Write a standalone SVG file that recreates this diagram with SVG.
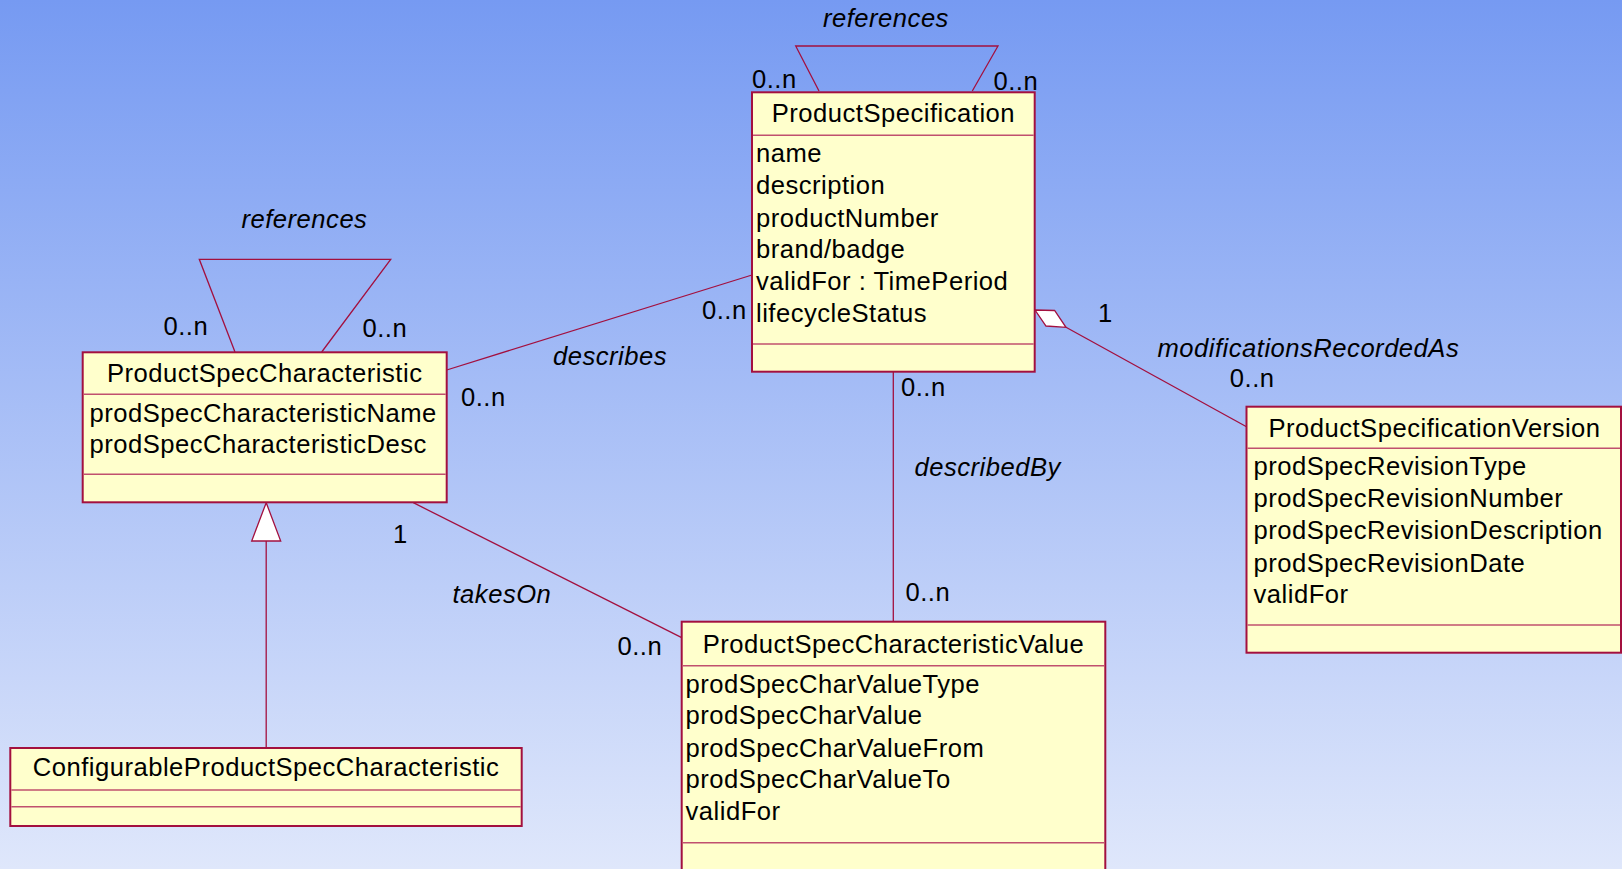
<svg xmlns="http://www.w3.org/2000/svg" width="1622" height="869" viewBox="0 0 1622 869">
<defs>
<linearGradient id="bg" x1="0" y1="0" x2="0" y2="1">
<stop offset="0" stop-color="#769af2"/>
<stop offset="1" stop-color="#dfe7fb"/>
</linearGradient>
<style>
text{font-family:"Liberation Sans",Arial,sans-serif;font-size:25.6px;letter-spacing:0.5px;fill:#000}
.it{font-style:italic}
.mid{text-anchor:middle}
.box{fill:#ffffcc;stroke:#a3103f;stroke-width:2}
.sep{stroke:#c0506e;stroke-width:1.5;fill:none}
.ln{stroke:#a3103f;stroke-width:1.3;fill:none}
.tri{fill:#fff;stroke:#a3103f;stroke-width:1.3}
</style>
</defs>
<rect width="1622" height="869" fill="url(#bg)"/>

<g id="connectors">
<polyline class="ln" points="819,91 795.7,46 998,46 972.3,91"/>
<polyline class="ln" points="235,352 199.3,259.3 390.7,259.3 321.7,352"/>
<line class="ln" x1="446.7" y1="370" x2="752" y2="275"/>
<line class="ln" x1="893.3" y1="372" x2="893.3" y2="621.7"/>
<line class="ln" x1="413.3" y1="502.7" x2="681.7" y2="637.7"/>
<line class="ln" x1="1066" y1="327.3" x2="1246.5" y2="426.7"/>
<polygon class="tri" points="1035,310 1054.6,310.5 1066,327.3 1046,326"/>
<line class="ln" x1="266.2" y1="541" x2="266.2" y2="748"/>
<polygon class="tri" points="266.2,502.7 251.7,541 280.7,541"/>
<text class="it" x="823" y="27.3">references</text>
<text x="752" y="88.3">0..n</text>
<text x="993.5" y="90">0..n</text>
<text class="it" x="241.5" y="228.3">references</text>
<text x="163.5" y="335">0..n</text>
<text x="362.5" y="336.7">0..n</text>
<text class="it" x="553" y="365">describes</text>
<text x="461" y="405.7">0..n</text>
<text x="702" y="319.3">0..n</text>
<text x="901" y="396">0..n</text>
<text class="it" x="914.5" y="476">describedBy</text>
<text x="905.5" y="601">0..n</text>
<text x="1098" y="322.3">1</text>
<text class="it" x="1157.5" y="356.7">modificationsRecordedAs</text>
<text x="1229.8" y="387.3">0..n</text>
<text x="393" y="543.3">1</text>
<text class="it" x="452.5" y="603.3">takesOn</text>
<text x="617.5" y="655">0..n</text>
</g>

<g id="ProductSpecification">
<rect class="box" x="752" y="92.3" width="282.7" height="279.4"/>
<line class="sep" x1="753" y1="135.3" x2="1033.7" y2="135.3"/>
<line class="sep" x1="753" y1="344" x2="1033.7" y2="344"/>
<text class="mid" x="893.4" y="121.7">ProductSpecification</text>
<text x="756" y="161.7">name</text>
<text x="756" y="194">description</text>
<text x="756" y="226.5">productNumber</text>
<text x="756" y="258.3">brand/badge</text>
<text x="756" y="290">validFor : TimePeriod</text>
<text x="756" y="321.7">lifecycleStatus</text>
</g>

<g id="ProductSpecCharacteristic">
<rect class="box" x="82.7" y="352.3" width="364" height="150"/>
<line class="sep" x1="83.7" y1="394.3" x2="445.7" y2="394.3"/>
<line class="sep" x1="83.7" y1="474.3" x2="445.7" y2="474.3"/>
<text class="mid" x="264.7" y="381.7">ProductSpecCharacteristic</text>
<text x="89.5" y="421.7">prodSpecCharacteristicName</text>
<text x="89.5" y="453.3">prodSpecCharacteristicDesc</text>
</g>

<g id="ProductSpecificationVersion">
<rect class="box" x="1246.5" y="406.7" width="374.5" height="246"/>
<line class="sep" x1="1247.5" y1="448.3" x2="1620" y2="448.3"/>
<line class="sep" x1="1247.5" y1="625" x2="1620" y2="625"/>
<text class="mid" x="1434.5" y="436.7">ProductSpecificationVersion</text>
<text x="1253.5" y="475">prodSpecRevisionType</text>
<text x="1253.5" y="506.7">prodSpecRevisionNumber</text>
<text x="1253.5" y="539.3">prodSpecRevisionDescription</text>
<text x="1253.5" y="571.7">prodSpecRevisionDate</text>
<text x="1253.5" y="603.3">validFor</text>
</g>

<g id="ProductSpecCharacteristicValue">
<rect class="box" x="681.7" y="621.7" width="423.6" height="270"/>
<line class="sep" x1="682.7" y1="665.7" x2="1104.3" y2="665.7"/>
<line class="sep" x1="682.7" y1="842.7" x2="1104.3" y2="842.7"/>
<text class="mid" x="893.5" y="652.7">ProductSpecCharacteristicValue</text>
<text x="685.5" y="692.7">prodSpecCharValueType</text>
<text x="685.5" y="724">prodSpecCharValue</text>
<text x="685.5" y="756.5">prodSpecCharValueFrom</text>
<text x="685.5" y="788.3">prodSpecCharValueTo</text>
<text x="685.5" y="820">validFor</text>
</g>

<g id="ConfigurableProductSpecCharacteristic">
<rect class="box" x="10.3" y="748" width="511.4" height="78"/>
<line class="sep" x1="11.3" y1="790" x2="520.7" y2="790"/>
<line class="sep" x1="11.3" y1="806.7" x2="520.7" y2="806.7"/>
<text class="mid" x="266" y="776">ConfigurableProductSpecCharacteristic</text>
</g>
</svg>
